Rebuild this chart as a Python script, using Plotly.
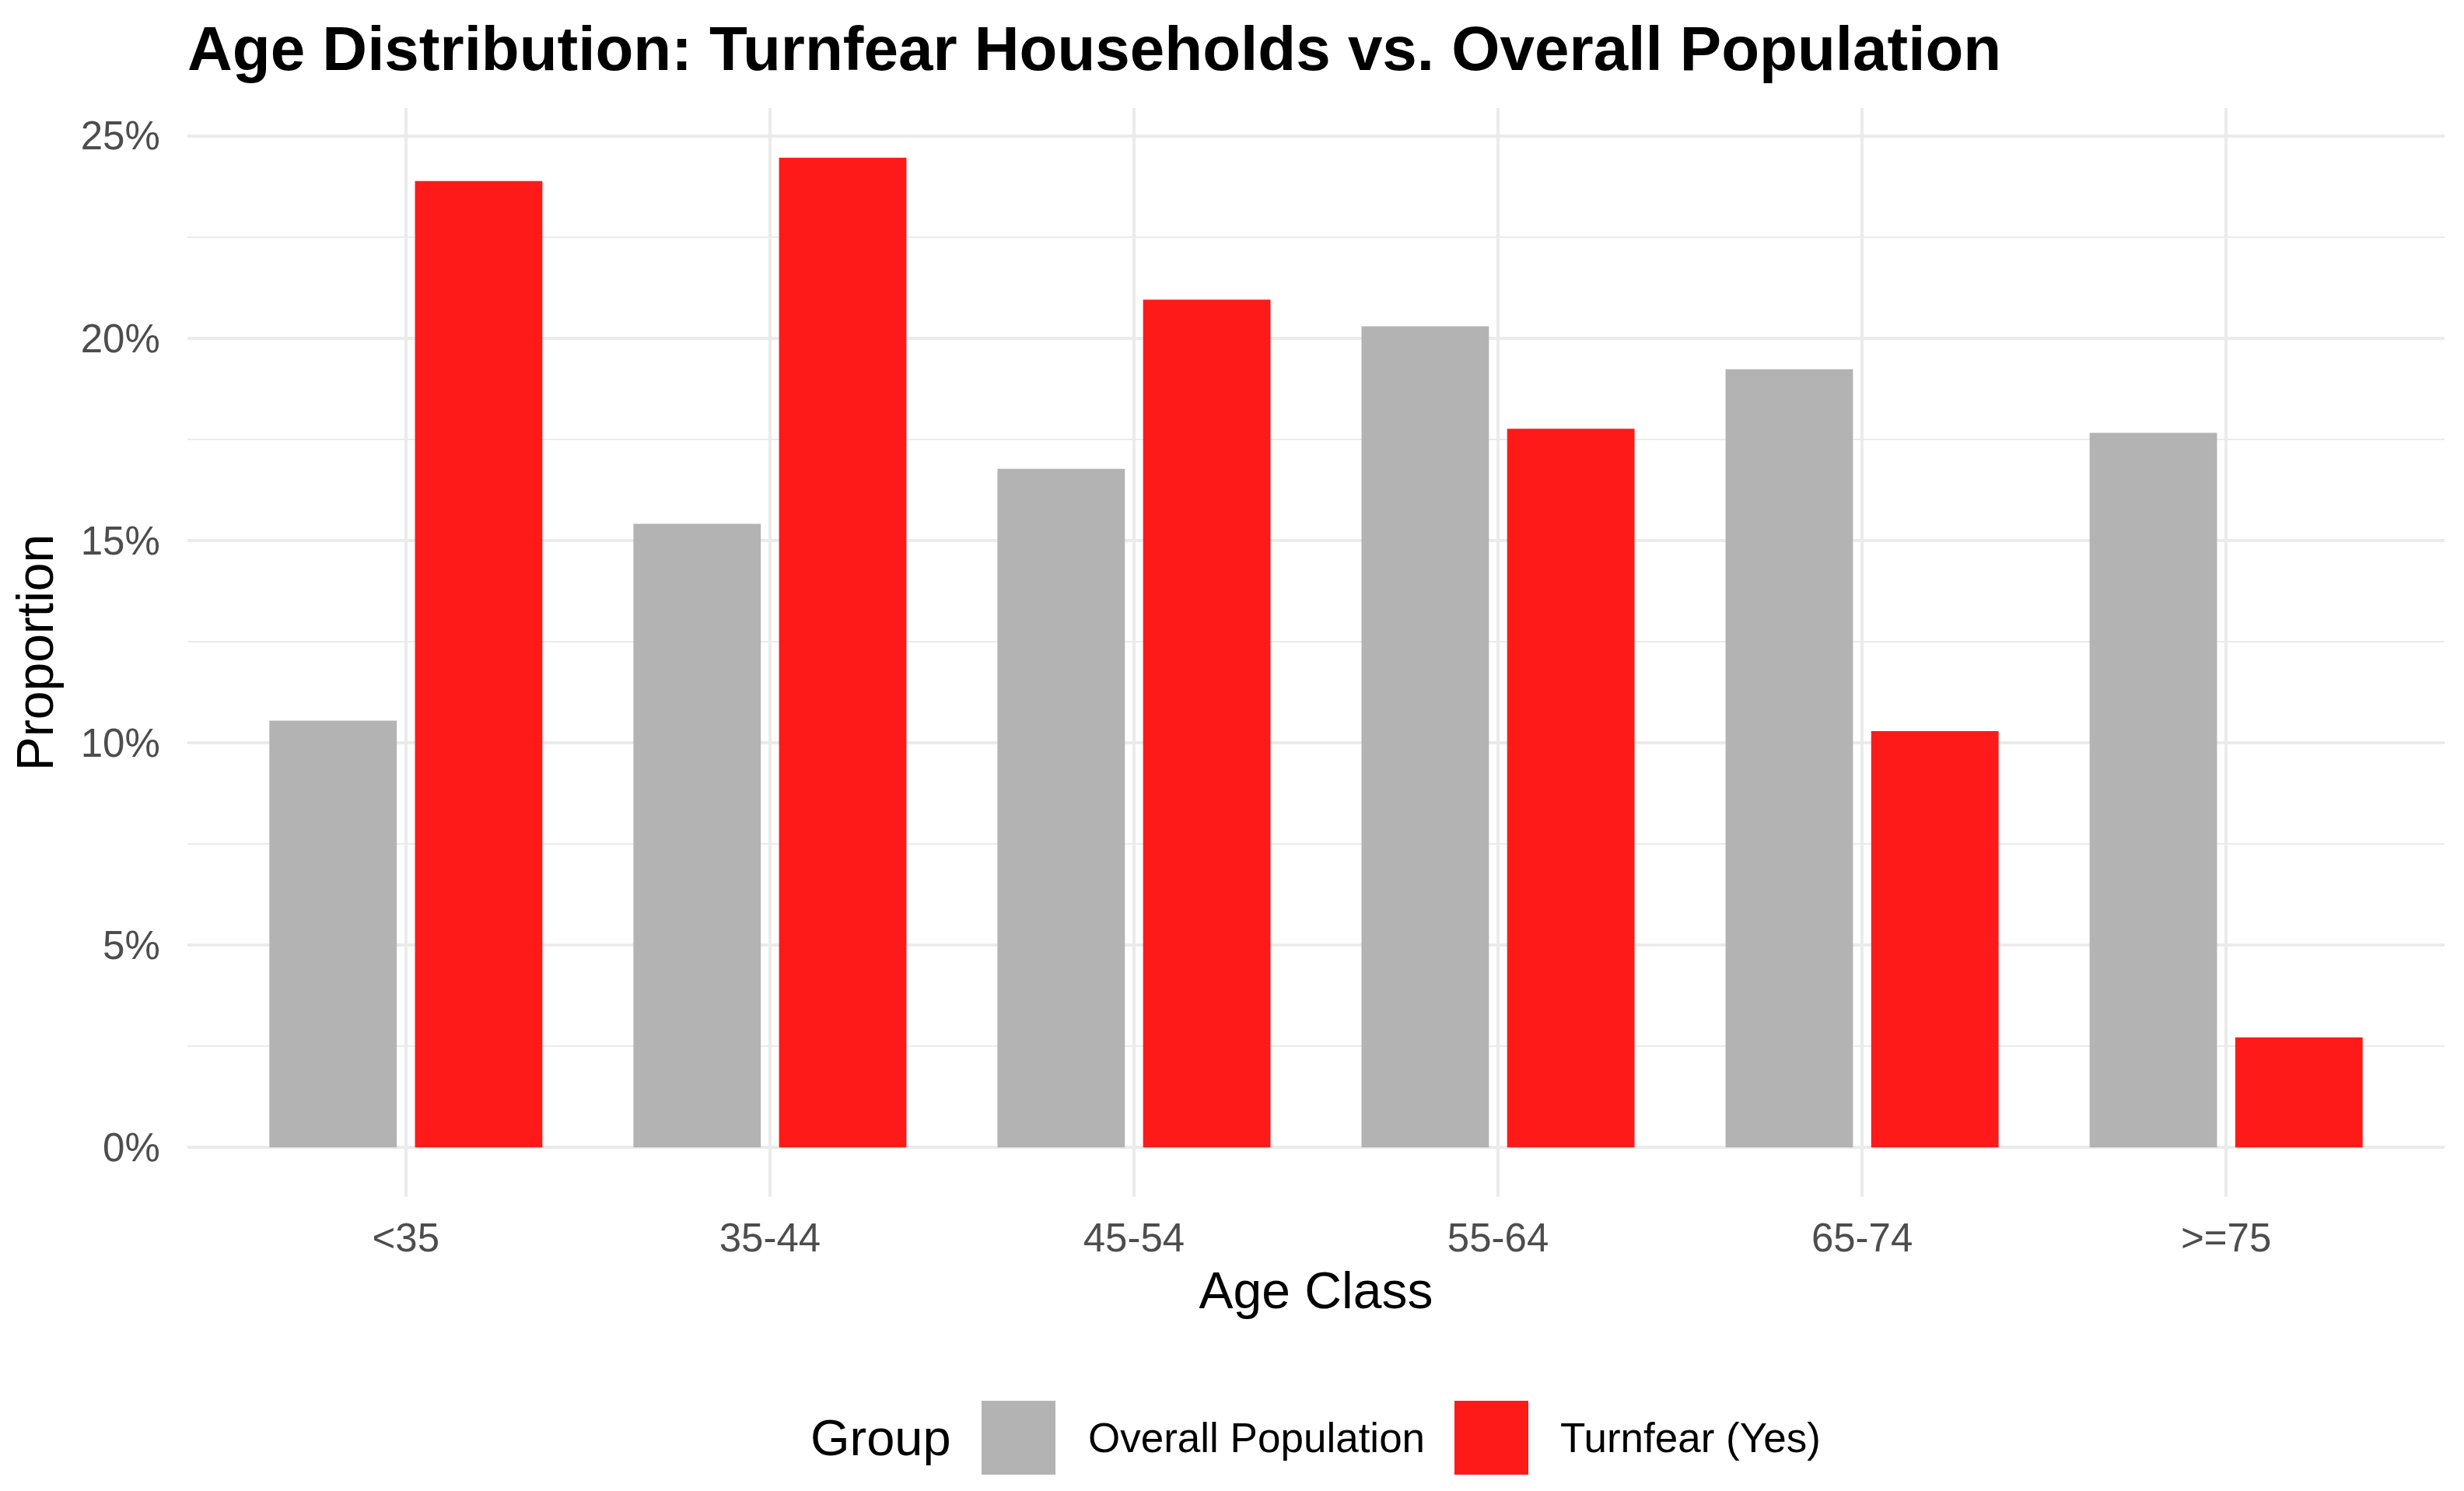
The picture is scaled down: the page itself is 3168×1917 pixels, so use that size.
import plotly.graph_objects as go

# ---- data ----
age_classes = ["<35", "35-44", "45-54", "55-64", "65-74", ">=75"]
groups = ["Overall Population", "Turnfear (Yes)"]
overall_population = [0.1055, 0.1541, 0.1677, 0.2029, 0.1923, 0.1766]
turnfear_yes = [0.2388, 0.2446, 0.2095, 0.1776, 0.1029, 0.0272]
y_tick_values = [0.0, 0.05, 0.10, 0.15, 0.20, 0.25]
y_tick_labels = ["0%", "5%", "10%", "15%", "20%", "25%"]

# ---- styling ----
OFF = 8  # default page margin of the html body
W, H = 3168 - 2 * OFF, 1917 - 2 * OFF
# plot area in screen pixels: x 241..3143, y 139..1539
ML = 241 - OFF
MT = 139 - OFF
MR = W - (3143 - OFF)
MB = H - (1539 - OFF)
colors = {"Overall Population": "#B3B3B3", "Turnfear (Yes)": "#FF1A1A"}
FONT = "Liberation Sans, Arial, Helvetica, sans-serif"
GRID = "#EBEBEB"

series = {"Overall Population": overall_population, "Turnfear (Yes)": turnfear_yes}

fig = go.Figure()
for g in groups:
    fig.add_trace(go.Bar(
        x=age_classes, y=series[g], name=g,
        marker=dict(color=colors[g], line=dict(width=0)),
        showlegend=False,
    ))

ymax = max(overall_population + turnfear_yes)
yr = [-0.05 * ymax, ymax * 1.05]

pw = W - ML - MR
ph = H - MT - MB

def px_to_paper_x(px):
    return (px - OFF - ML) / pw

def px_to_paper_y(py):
    return (H - MB - (py - OFF)) / ph

fig.update_layout(
    width=W, height=H,
    margin=dict(l=ML, r=MR, t=MT, b=MB, pad=0),
    paper_bgcolor="white", plot_bgcolor="white",
    barmode="group", bargap=0.2, bargroupgap=0.125,
    font=dict(family=FONT, color="black"),
    title=dict(
        text="<b>Age Distribution: Turnfear Households vs. Overall Population</b>",
        x=0, xref="paper", xanchor="left",
        y=1 - (62 - OFF) / H, yref="container", yanchor="middle",
        font=dict(size=80, color="black", family=FONT),
    ),
    xaxis=dict(
        range=[-0.6, 5.6],
        showgrid=True, gridcolor=GRID, gridwidth=4,
        zeroline=False, showline=False,
        ticks="outside", ticklen=8, tickcolor="rgba(0,0,0,0)",
        tickfont=dict(size=51, color="#4D4D4D", family=FONT),
        title=dict(text="Age Class", font=dict(size=66, color="black", family=FONT), standoff=16),
    ),
    yaxis=dict(
        range=yr,
        tickvals=y_tick_values, ticktext=y_tick_labels,
        showgrid=True, gridcolor=GRID, gridwidth=4,
        minor=dict(dtick=0.025, tick0=0, showgrid=True, gridcolor=GRID, gridwidth=2),
        zeroline=False, showline=False,
        ticks="outside", ticklen=24, tickcolor="rgba(0,0,0,0)",
        tickfont=dict(size=51, color="#4D4D4D", family=FONT),
        title=dict(text="Proportion", font=dict(size=66, color="black", family=FONT), standoff=18),
    ),
)

# ---- legend (drawn as shapes + text to match the large ggplot keys) ----
key_y0, key_y1 = 1801, 1896
key_mid = (key_y0 + key_y1) / 2
fig.add_annotation(
    text="Group", x=px_to_paper_x(1040), y=px_to_paper_y(key_mid),
    xref="paper", yref="paper", xanchor="left", yanchor="middle",
    showarrow=False, font=dict(size=65, color="black", family=FONT),
)
legend_layout = [(1262, 1397), (1870, 2004)]
for g, (kx, tx) in zip(groups, legend_layout):
    fig.add_shape(
        type="rect", xref="paper", yref="paper",
        x0=px_to_paper_x(kx), x1=px_to_paper_x(kx + 95),
        y0=px_to_paper_y(key_y1), y1=px_to_paper_y(key_y0),
        fillcolor=colors[g], line=dict(width=0), layer="above",
    )
    fig.add_annotation(
        text=g, x=px_to_paper_x(tx), y=px_to_paper_y(key_mid),
        xref="paper", yref="paper", xanchor="left", yanchor="middle",
        showarrow=False, font=dict(size=53, color="black", family=FONT),
    )

fig.write_html("out.html")
